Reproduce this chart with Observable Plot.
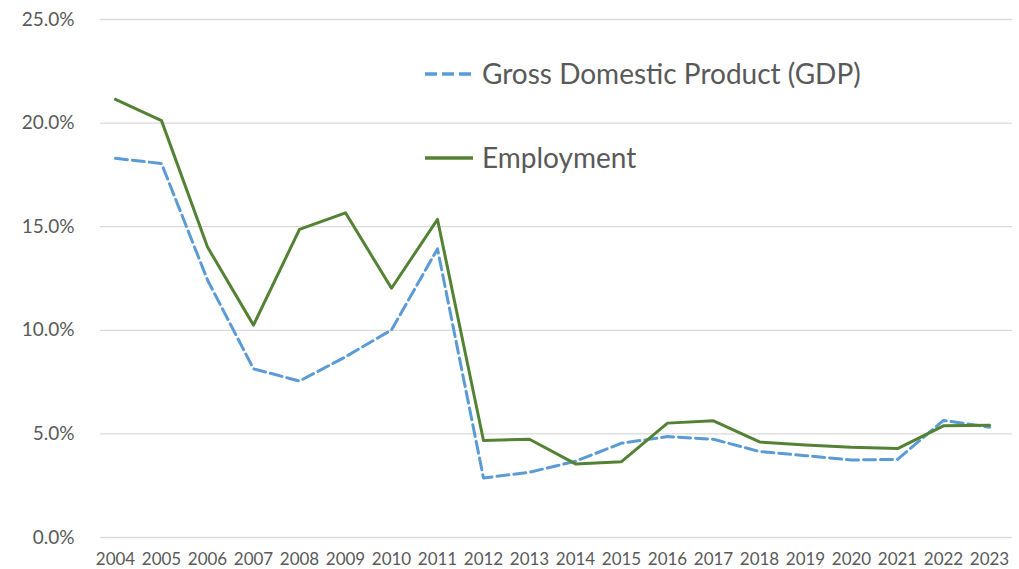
<!DOCTYPE html>
<html>
<head>
<meta charset="utf-8">
<script src="https://cdn.jsdelivr.net/npm/d3@7"></script>
<script src="https://cdn.jsdelivr.net/npm/@observablehq/plot@0.6"></script>
<style>
  html, body { margin: 0; padding: 0; background: #fff; }
  #wrap { position: relative; width: 1019px; height: 569px; }
  #legend { position: absolute; left: 0; top: 0; pointer-events: none; }
</style>
</head>
<body>
<div id="wrap"></div>
<script>
const years = [2004,2005,2006,2007,2008,2009,2010,2011,2012,2013,2014,2015,2016,2017,2018,2019,2020,2021,2022,2023];
const gdp = [18.3,18.05,12.43,8.14,7.55,8.72,10.02,13.93,2.87,3.15,3.68,4.55,4.87,4.74,4.15,3.95,3.74,3.77,5.65,5.32];
const employment = [21.15,20.12,14.02,10.25,14.87,15.67,12.03,15.35,4.68,4.74,3.55,3.66,5.52,5.63,4.61,4.47,4.35,4.29,5.39,5.42];
const yTicks = [0,5,10,15,20,25];
const seriesNames = ["Gross Domestic Product (GDP)", "Employment"];
const colors = ["#5B9BD5", "#548235"];

const data = years.map((year, i) => ({year, gdp: gdp[i], employment: employment[i]}));

const chart = Plot.plot({
  width: 1019,
  height: 569,
  marginLeft: 91,
  marginRight: 7,
  marginTop: 19,
  marginBottom: 32,
  style: {fontFamily: "Lato, 'Open Sans', sans-serif", color: "#595959", background: "#fff"},
  x: {type: "point", domain: years, padding: 0.5, label: null},
  y: {domain: [0, 25], label: null},
  marks: [
    Plot.ruleY(yTicks, {stroke: "#d9d9d9", strokeWidth: 1.3, insetLeft: 9}),
    Plot.axisY(yTicks, {tickSize: 0, tickPadding: 17, tickFormat: d => d.toFixed(1) + "%", fontSize: 19, label: null}),
    Plot.axisX(years, {tickSize: 0, tickPadding: 15, tickFormat: d => String(d), fontSize: 17, label: null}),
    Plot.line(data, {x: "year", y: "gdp", stroke: colors[0], strokeWidth: 3, strokeDasharray: "12,5"}),
    Plot.line(data, {x: "year", y: "employment", stroke: colors[1], strokeWidth: 3})
  ]
});
document.getElementById("wrap").appendChild(chart);

// In-plot legend overlay
const leg = d3.select("#wrap").append("svg")
  .attr("id", "legend").attr("width", 1019).attr("height", 569);
const legRows = [
  {name: seriesNames[0], color: colors[0], dash: "12,5", y: 74},
  {name: seriesNames[1], color: colors[1], dash: null, y: 158}
];
legRows.forEach(r => {
  leg.append("line")
    .attr("x1", 425).attr("x2", 473).attr("y1", r.y).attr("y2", r.y)
    .attr("stroke", r.color).attr("stroke-width", 3.5)
    .attr("stroke-dasharray", r.dash);
  leg.append("text")
    .attr("x", 482).attr("y", r.y).attr("dy", "0.35em")
    .attr("font-family", "Lato, 'Open Sans', sans-serif")
    .attr("font-size", 28)
    .attr("fill", "#595959")
    .text(r.name);
});
</script>
</body>
</html>
